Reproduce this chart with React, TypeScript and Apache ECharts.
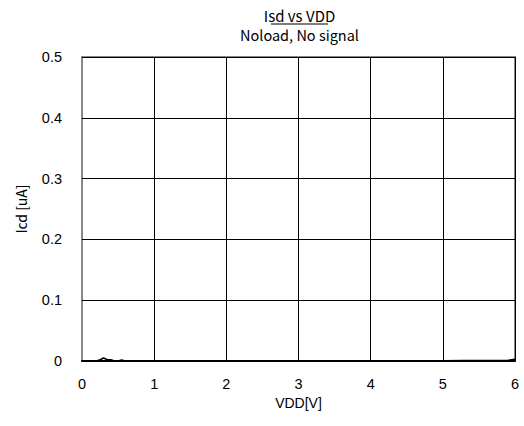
import React, { useEffect, useRef } from "react";
import * as echarts from "echarts";

const vdd = [0, 0.1, 0.2, 0.25, 0.3, 0.35, 0.4, 0.45, 0.5, 0.55, 0.6, 0.7, 1, 2, 3, 3.5, 4, 5, 5.3, 5.5, 5.9, 6];
const icd = [0, 0, 0, 0.002, 0.005, 0.002, 0.002, 0, 0, 0.0015, 0, 0, 0, 0, 0, 0.0003, 0.0004, 0.0005, 0.001, 0.001, 0.001, 0.003];
const titleText = "Isd vs VDD";
const subText = "Noload, No signal";
const xName = "VDD[V]";
const yName = "Icd [uA]";

const jp = "'Noto Sans CJK JP', 'Liberation Sans', sans-serif";
const num = "'Liberation Sans', Arial, sans-serif";

export default function App() {
  const ref = useRef<HTMLDivElement>(null);
  useEffect(() => {
    if (!ref.current) return;
    const chart = echarts.init(ref.current, null, { renderer: "svg" });
    chart.setOption({
      animation: false,
      backgroundColor: "#ffffff",
      graphic: [
        { type: "text", x: 299.5, y: 15, style: { text: titleText, x: 0, y: 0, align: "center", verticalAlign: "middle", fontFamily: jp, fontSize: 15, fill: "#000" } },
        { type: "text", x: 299.5, y: 34, style: { text: subText, x: 0, y: 0, align: "center", verticalAlign: "middle", fontFamily: jp, fontSize: 14.5, fill: "#000" } },
        { type: "line", shape: { x1: 271, y1: 24, x2: 328, y2: 24 }, style: { stroke: "#000", lineWidth: 1.2 } },
      ],
      grid: { left: 82, right: 9, top: 57, bottom: 65, show: true, borderColor: "#888", borderWidth: 2 },
      xAxis: {
        type: "value",
        min: 0,
        max: 6,
        interval: 1,
        name: xName,
        nameLocation: "middle",
        nameGap: 35,
        nameTextStyle: { fontFamily: num, fontSize: 14, color: "#000" },
        axisLine: { show: true, lineStyle: { color: "#000", width: 2 } },
        axisTick: { show: false },
        axisLabel: { fontFamily: num, fontSize: 14.5, color: "#000", margin: 15 },
        splitLine: { show: true, lineStyle: { color: "#000", width: 1 } },
      },
      yAxis: {
        type: "value",
        min: 0,
        max: 0.5,
        interval: 0.1,
        name: yName,
        nameLocation: "middle",
        nameGap: 54,
        nameTextStyle: { fontFamily: jp, fontSize: 14, color: "#000" },
        axisLine: { show: true, lineStyle: { color: "#888", width: 2 } },
        axisTick: { show: true, inside: true, length: 5, lineStyle: { color: "#000" } },
        axisLabel: { fontFamily: num, fontSize: 14.5, color: "#000", margin: 20 },
        splitLine: { show: true, lineStyle: { color: "#000", width: 1 } },
      },
      series: [
        {
          type: "line",
          data: vdd.map((v, i) => [v, icd[i]]),
          showSymbol: false,
          lineStyle: { color: "#000", width: 1.5 },
        },
      ],
    });
    return () => chart.dispose();
  }, []);
  return <div ref={ref} style={{ width: 524, height: 426, position: "absolute", left: 0, top: 0 }} />;
}
